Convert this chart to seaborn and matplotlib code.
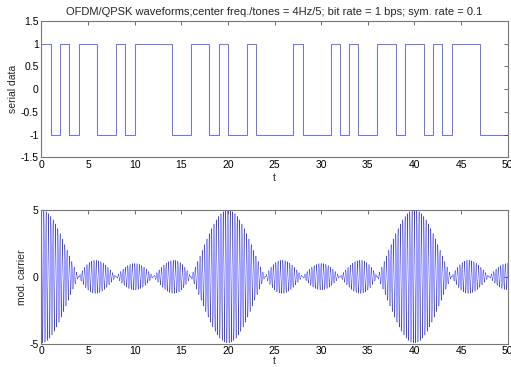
import numpy as np
import pandas as pd
import matplotlib
matplotlib.use("Agg")
import matplotlib.pyplot as plt
import seaborn as sns

# ---- data ----
bit_times = list(range(0, 51))  # bit boundaries, 1 bit per second
bits = [1, -1, 1, -1, 1, 1, -1, -1, 1, -1,
        1, 1, 1, 1, -1, -1, 1, 1, -1, 1,
        -1, -1, 1, -1, -1, -1, -1, 1, -1, -1,
        -1, 1, -1, 1, -1, -1, 1, 1, -1, 1,
        1, -1, 1, -1, 1, 1, 1, -1, -1, -1]
tone_freqs = [3.90, 3.95, 4.00, 4.05, 4.10]   # Hz, 5 tones around 4 Hz
tone_amps = [1.0, 1.0, 1.0, 1.0, 1.0]
fs = 100.0          # samples per second of the carrier trace
t_end = 50.0

title = "OFDM/QPSK waveforms;center freq./tones = 4Hz/5; bit rate = 1 bps; sym. rate = 0.1"
x_ticks = [0, 5, 10, 15, 20, 25, 30, 35, 40, 45, 50]
y_ticks_top = [-1.5, -1, -0.5, 0, 0.5, 1, 1.5]
y_tick_labels_top = ["-1.5", "-1", "-0.5", "0", "0.5", "1", "1.5"]
y_ticks_bot = [-5, 0, 5]

# ---- build tables ----
serial = pd.DataFrame({"t": bit_times, "v": bits + [bits[-1]]})
tc = np.arange(0, t_end + 1e-9, 1.0 / fs)
carrier_v = np.zeros_like(tc)
for f, a in zip(tone_freqs, tone_amps):
    carrier_v += a * np.cos(2 * np.pi * f * tc)
carrier = pd.DataFrame({"t": tc, "v": carrier_v})

sns.set_style("white")
plt.rcParams["font.family"] = ["Liberation Sans", "DejaVu Sans"]
plt.rcParams["font.size"] = 7.5

fig = plt.figure(figsize=(5.11, 3.67), dpi=100)
ax1 = fig.add_axes([0.0812, 0.5711, 0.9123, 0.3717])
ax2 = fig.add_axes([0.0812, 0.0640, 0.9123, 0.3638])

sns.lineplot(data=serial, x="t", y="v", ax=ax1, color="#3333ff",
             linewidth=0.5, drawstyle="steps-post", estimator=None)
sns.lineplot(data=carrier, x="t", y="v", ax=ax2, color="#1a1aff",
             linewidth=0.3, estimator=None)

for ax in (ax1, ax2):
    ax.set_xlim(0, 50)
    ax.set_xticks(x_ticks)
    ax.set_xticklabels([str(x) for x in x_ticks])
    ax.tick_params(direction="in", length=3, width=0.6, color="#555555",
                   top=True, right=True, labelsize=7.5, pad=2,
                   labelcolor="black")
    for s in ax.spines.values():
        s.set_color("#777777")
        s.set_linewidth(0.8)
        s.set_visible(True)

ax1.set_xlabel("t", fontsize=7.5, labelpad=2)
ax2.set_xlabel("t", fontsize=7.5, labelpad=0)

ax1.set_ylim(-1.5, 1.5)
ax1.set_yticks(y_ticks_top)
ax1.set_yticklabels(y_tick_labels_top)
ax1.set_ylabel("serial data", fontsize=7.5, labelpad=2)
ax1.set_title(title, fontsize=8, pad=4)

ax2.set_ylim(-5, 5)
ax2.set_yticks(y_ticks_bot)
ax2.set_yticklabels([str(y) for y in y_ticks_bot])
ax2.set_ylabel("mod. carrier", fontsize=7.5, labelpad=2)

fig.savefig("out.png", dpi=100)
